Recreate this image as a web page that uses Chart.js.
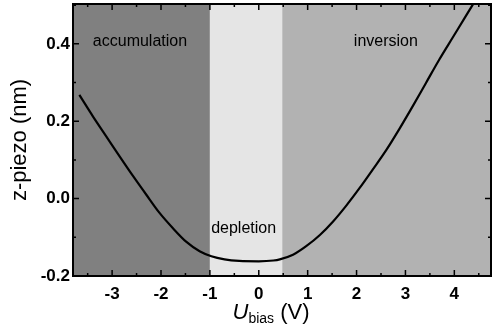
<!DOCTYPE html>
<html>
<head>
<meta charset="utf-8">
<script src="https://cdn.jsdelivr.net/npm/chart.js@4"></script>
<style>
  html, body { margin: 0; padding: 0; background: #fff; }
  #wrap { width: 493px; height: 335px; position: relative; }
</style>
</head>
<body>
<div id="wrap"><canvas id="myChart"></canvas></div>
<script>
// curve
const biasV = [-3.67, -3.39, -3.12, -2.84, -2.57, -2.3, -2.03, -1.76, -1.48, -1.21, -0.97, -0.7, -0.4, 0.0, 0.3, 0.43, 0.7, 0.97, 1.25, 1.52, 1.79, 2.06, 2.33, 2.61, 2.88, 3.15, 3.42, 3.69, 3.97, 4.24, 4.4];
const zPiezo = [0.268, 0.212, 0.161, 0.108, 0.058, 0.010, -0.037, -0.076, -0.112, -0.136, -0.149, -0.157, -0.161, -0.162, -0.160, -0.157, -0.145, -0.123, -0.094, -0.059, -0.018, 0.027, 0.075, 0.126, 0.181, 0.239, 0.299, 0.359, 0.417, 0.473, 0.506];

// shaded regions
const regionNames = ['accumulation', 'depletion', 'inversion'];
const regionFrom = [-3.8, -1.0, 0.48];
const regionTo = [-1.0, 0.48, 4.75];
const regionColors = ['#808080', '#e5e5e5', '#b2b2b2'];
// where the region names sit (data coords)
const labelX = [-2.43, -0.31, 2.6];
const labelY = [0.405, -0.077, 0.405];

const xTicks = [-3, -2, -1, 0, 1, 2, 3, 4];
const yTicks = [-0.2, 0.0, 0.2, 0.4];

const pts = biasV.map((v, i) => ({ x: v, y: zPiezo[i] }));
const FONT = '"Liberation Sans", Arial, sans-serif';

const regionsPlugin = {
    id: 'regions',
    beforeDatasetsDraw(chart) {
        const { ctx, chartArea, scales } = chart;
        ctx.save();
        for (let i = 0; i < regionNames.length; i++) {
            let x1 = Math.max(scales.x.getPixelForValue(regionFrom[i]), chartArea.left);
            let x2 = Math.min(scales.x.getPixelForValue(regionTo[i]), chartArea.right);
            ctx.fillStyle = regionColors[i];
            ctx.fillRect(x1, chartArea.top, x2 - x1, chartArea.bottom - chartArea.top);
        }
        ctx.fillStyle = '#000';
        ctx.font = '16px ' + FONT;
        ctx.textAlign = 'center';
        ctx.textBaseline = 'middle';
        for (let i = 0; i < regionNames.length; i++) {
            ctx.fillText(regionNames[i], scales.x.getPixelForValue(labelX[i]), scales.y.getPixelForValue(labelY[i]));
        }
        ctx.restore();
    },
    afterDraw(chart) {
        const { ctx, chartArea: a, scales } = chart;
        ctx.save();
        ctx.strokeStyle = '#000';
        ctx.lineWidth = 2;
        ctx.strokeRect(a.left, a.top, a.right - a.left, a.bottom - a.top);
        ctx.lineWidth = 1.5;
        ctx.beginPath();
        // x ticks, inward, bottom and top
        for (let v = -3.5; v <= 4.75; v += 0.5) {
            const px = scales.x.getPixelForValue(v);
            const len = Number.isInteger(v) ? 6 : 3;
            ctx.moveTo(px, a.bottom); ctx.lineTo(px, a.bottom - len);
            ctx.moveTo(px, a.top); ctx.lineTo(px, a.top + len);
        }
        // y ticks
        for (let k = -2; k <= 5; k++) {
            const py = scales.y.getPixelForValue(k / 10);
            const len = (k % 2 === 0) ? 6 : 3;
            ctx.moveTo(a.left, py); ctx.lineTo(a.left + len, py);
            ctx.moveTo(a.right, py); ctx.lineTo(a.right - len, py);
        }
        ctx.stroke();
        // x title with subscript
        const cx = 271;
        const ty = 319;
        ctx.fillStyle = '#000';
        ctx.textBaseline = 'alphabetic';
        ctx.textAlign = 'left';
        const fU = 'italic 22px ' + FONT;
        const fSub = '14px ' + FONT;
        const fV = '22px ' + FONT;
        ctx.font = fU; const wU = ctx.measureText('U').width;
        ctx.font = fSub; const wS = ctx.measureText('bias').width;
        ctx.font = fV; const wV = ctx.measureText(' (V)').width;
        let sx = cx - (wU + wS + wV) / 2;
        ctx.font = fU; ctx.fillText('U', sx, ty); sx += wU;
        ctx.font = fSub; ctx.fillText('bias', sx, ty + 4); sx += wS;
        ctx.font = fV; ctx.fillText(' (V)', sx, ty);
        ctx.restore();
    }
};

const chartArea2 = document.getElementById('myChart').getContext('2d');
new Chart(chartArea2, {
    type: 'line',
    data: {
        datasets: [{
            data: pts,
            borderColor: '#000',
            borderWidth: 2.2,
            pointRadius: 0,
            cubicInterpolationMode: 'monotone',
            fill: false
        }]
    },
    options: {
        responsive: true,
        maintainAspectRatio: false,
        animation: false,
        layout: { padding: { top: 4, right: 2, left: 7, bottom: 0 } },
        plugins: {
            legend: { display: false },
            tooltip: { enabled: false }
        },
        scales: {
            x: {
                type: 'linear',
                min: -3.8,
                max: 4.75,
                afterBuildTicks(s) { s.ticks = xTicks.map(v => ({ value: v })); },
                afterFit(s) { s.height = 59; },
                grid: { display: false, drawTicks: false },
                border: { display: false },
                ticks: {
                    padding: 8,
                    color: '#000',
                    font: { family: FONT, size: 17, weight: 'bold' }
                }
            },
            y: {
                min: -0.2,
                max: 0.503,
                afterBuildTicks(s) { s.ticks = yTicks.map(v => ({ value: v })); },
                afterFit(s) { s.width = 66; s.paddingTop = 0; s.paddingBottom = 0; },
                grid: { display: false, drawTicks: false },
                border: { display: false },
                title: {
                    display: true,
                    text: 'z-piezo (nm)',
                    color: '#000',
                    padding: { top: 0, bottom: 0 },
                    font: { family: FONT, size: 22 }
                },
                ticks: {
                    padding: 3,
                    color: '#000',
                    callback: v => v.toFixed(1),
                    font: { family: FONT, size: 17, weight: 'bold' }
                }
            }
        }
    },
    plugins: [regionsPlugin]
});
</script>
</body>
</html>
